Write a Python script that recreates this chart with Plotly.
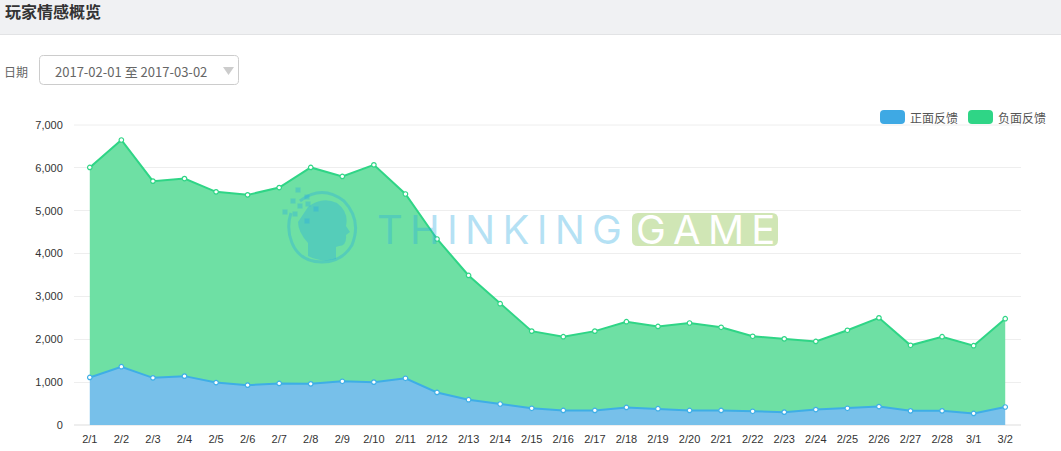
import plotly.graph_objects as go

dates = ['2/1', '2/2', '2/3', '2/4', '2/5', '2/6', '2/7', '2/8', '2/9', '2/10',
         '2/11', '2/12', '2/13', '2/14', '2/15', '2/16', '2/17', '2/18', '2/19', '2/20',
         '2/21', '2/22', '2/23', '2/24', '2/25', '2/26', '2/27', '2/28', '3/1', '3/2']
positive = [1110, 1360, 1100, 1140, 990, 930, 970, 960, 1020, 1000,
            1090, 760, 590, 490, 390, 340, 340, 410, 380, 340,
            340, 320, 300, 360, 390, 430, 330, 330, 270, 420]
negative = [4900, 5290, 4590, 4610, 4450, 4440, 4570, 5050, 4780, 5070,
            4300, 3580, 2900, 2340, 1800, 1720, 1850, 2000, 1920, 2040,
            1940, 1750, 1710, 1590, 1820, 2070, 1530, 1730, 1580, 2060]
y_ticks = [0, 1000, 2000, 3000, 4000, 5000, 6000, 7000]

W, H = 1061, 451
LEFT, RIGHT, TOP, BOTTOM = 74, 1021, 125, 425
BLUE = '#3eaee6'
GREEN = '#2fd586'
FONT = 'Noto Sans CJK SC'
WATERMARK = 'rgba(40,170,225,0.35)'


# page pixels -> paper coordinates, header and watermark are laid out in pixels
def px(x):
    return (x - LEFT) / (RIGHT - LEFT)


def py(y):
    return (BOTTOM - y) / (BOTTOM - TOP)


def box(x0, y0, x1, y1, **kw):
    return dict(type='rect', xref='paper', yref='paper', x0=px(x0), x1=px(x1), y0=py(y0), y1=py(y1), **kw)


def path(points, **kw):
    d = ''
    for p in points:
        if isinstance(p, str):
            d += p + ' '
        else:
            d += f'{px(p[0]):.5f},{py(p[1]):.5f} '
    return dict(type='path', xref='paper', yref='paper', path=d.strip(), **kw)


def rounded(x0, y0, x1, y1, r, **kw):
    return path(['M', (x0 + r, y0), 'L', (x1 - r, y0), 'Q', (x1, y0), (x1, y0 + r),
                 'L', (x1, y1 - r), 'Q', (x1, y1), (x1 - r, y1),
                 'L', (x0 + r, y1), 'Q', (x0, y1), (x0, y1 - r),
                 'L', (x0, y0 + r), 'Q', (x0, y0), (x0 + r, y0), 'Z'], **kw)


def label(text, x, y, size=12, color='#555', anchor='left', **font):
    return dict(text=text, xref='paper', yref='paper', x=px(x), y=py(y), xanchor=anchor, yanchor='middle',
                showarrow=False, align=anchor, borderpad=0,
                font=dict(family=font.pop('family', FONT), size=size, color=color, **font))


fig = go.Figure()
fig.add_scatter(x=dates, y=positive, name='正面反馈', stackgroup='one', mode='lines+markers',
                line=dict(color=BLUE, width=2), fillcolor='#77c0ea',
                marker=dict(size=4.5, color='white', line=dict(color=BLUE, width=1.2)))
fig.add_scatter(x=dates, y=negative, name='负面反馈', stackgroup='one', mode='lines+markers',
                line=dict(color=GREEN, width=2), fillcolor='#6ee0a4',
                marker=dict(size=4.5, color='white', line=dict(color=GREEN, width=1.2)))

shapes = [
    # page header
    box(0, 0, W, 34, fillcolor='#f0f1f3', line_width=0, layer='below'),
    box(0, 34, W, 35, fillcolor='#e2e3e5', line_width=0, layer='below'),
    # date picker
    rounded(39.5, 55.5, 238.5, 84.5, 4, fillcolor='white', line=dict(color='#cccccc', width=1), layer='below'),
    path(['M', (223, 67), 'L', (234, 67), 'L', (228.5, 75), 'Z'], fillcolor='#cccccc', line_width=0),
    # top gridline, plotly drops the one sitting on the plot edge
    dict(type='line', xref='paper', yref='paper', x0=0, x1=1, y0=1, y1=1, line=dict(color='#eeeeee', width=1), layer='below'),
    # legend swatches
    rounded(880, 110, 905, 124, 4, fillcolor='#3ea9e4', line_width=0),
    rounded(968, 110, 993, 124, 4, fillcolor='#2fd586', line_width=0),
    # watermark logo: ring, head, pixels
    path(['M', (300, 201), 'Q', (322, 184), (344, 201), 'Q', (362, 220), (352, 245),
          'Q', (342, 262), (322, 262), 'Q', (300, 262), (292, 243), 'Q', (286, 228), (291, 213)],
         line=dict(color=WATERMARK, width=3)),
    path(['M', (308, 207), 'Q', (322, 196), (337, 203), 'Q', (349, 212), (346, 226), 'L', (350, 232),
          'L', (346, 235), 'Q', (347, 246), (339, 246), 'L', (336, 247), 'L', (336, 259),
          'Q', (322, 263), (308, 256), 'L', (308, 243), 'Q', (298, 232), (298, 222), 'Z'],
         fillcolor=WATERMARK, line_width=0),
    # "GAME" badge
    rounded(632, 213, 778, 246, 6, fillcolor='rgba(150,200,90,0.45)', line_width=0),
]
for cx, cy in [(298, 190), (307, 197), (293, 201), (300, 206), (308, 204), (316, 209), (285, 212), (295, 214), (307, 221)]:
    shapes.append(box(cx - 2.5, cy - 2.5, cx + 2.5, cy + 2.5, fillcolor=WATERMARK, line_width=0))

annotations = [
    label('玩家情感概览', 4, 11.5, size=16, color='#333', weight='bold'),
    label('日期', 3, 71, size=12, color='#666'),
    label('2017-02-01 至 2017-03-02', 54, 71.5, size=13, color='#666'),
    label('正面反馈', 909, 117, size=12),
    label('负面反馈', 997, 117, size=12),
    label('T\u2009H\u2009I\u2009N\u2009K\u2009I\u2009N\u2009G', 499.5, 229, size=40, color=WATERMARK, anchor='center',
          family='Inter', weight=400),
    label('G\u2009A\u2009M\u2009E', 705, 229, size=40, color='white', anchor='center', family='Inter', weight=400),
]

fig.update_layout(
    width=W, height=H, autosize=False, showlegend=False,
    margin=dict(l=LEFT, r=W - RIGHT, t=TOP, b=H - BOTTOM, pad=0, autoexpand=False),
    paper_bgcolor='white', plot_bgcolor='white',
    font=dict(family='Liberation Sans', size=11, color='#333'),
    shapes=shapes, annotations=annotations,
    xaxis=dict(type='category', range=[-0.5, 29.5], showgrid=False, showline=False, zeroline=False, automargin=False,
               ticks='outside', ticklen=4, tickcolor='rgba(0,0,0,0)', tickangle=0,
               tickfont=dict(size=11, color='#333')),
    yaxis=dict(range=[0, 7000], tickvals=y_ticks, tickformat=',', gridcolor='#eeeeee', gridwidth=1, automargin=False,
               zeroline=True, zerolinecolor='#eeeeee', showline=False,
               ticks='outside', ticklen=8, tickcolor='rgba(0,0,0,0)',
               tickfont=dict(size=11, color='#333')),
)

fig.write_html('out.html', config=dict(displayModeBar=False), post_script="document.body.style.margin='0';")
